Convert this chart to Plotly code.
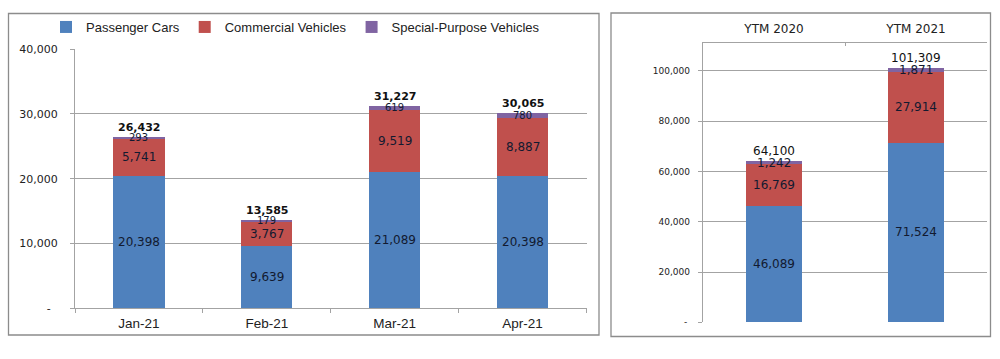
import plotly.graph_objects as go

# ---- data ----
months = ["Jan-21", "Feb-21", "Mar-21", "Apr-21"]
passenger_m = [20398, 9639, 21089, 20398]
commercial_m = [5741, 3767, 9519, 8887]
special_m = [293, 179, 619, 780]

periods = ["YTM 2020", "YTM 2021"]
passenger_y = [46089, 71524]
commercial_y = [16769, 27914]
special_y = [1242, 1871]

series_names = ["Passenger Cars", "Commercial Vehicles", "Special-Purpose Vehicles"]
colors = ["#4F81BD", "#C0504D", "#8064A2"]

left_ticks = [0, 10000, 20000, 30000, 40000]
left_ticktext = ["-\u00a0\u00a0", "10,000", "20,000", "30,000", "40,000"]
right_ticks = [0, 20000, 40000, 60000, 80000, 100000]
right_ticktext = ["-\u00a0", "20,000", "40,000", "60,000", "80,000", "100,000"]

W, H = 1000, 359
GRID = "#A3A3A3"
LABEL_FONT = "DejaVu Sans"
AXIS_FONT = "Liberation Sans"
TXT = "#121a30"

fig = go.Figure()

left_series = [passenger_m, commercial_m, special_m]
right_series = [passenger_y, commercial_y, special_y]

for name, col, vals in zip(series_names, colors, left_series):
    fig.add_trace(go.Bar(x=months, y=vals, name=name, marker=dict(color=col, line=dict(width=0)),
                         width=0.4, xaxis="x", yaxis="y", legendgroup=name, hoverinfo="skip"))
for name, col, vals in zip(series_names, colors, right_series):
    fig.add_trace(go.Bar(x=periods, y=vals, name=name, marker=dict(color=col, line=dict(width=0)),
                         width=0.39, xaxis="x2", yaxis="y2", legendgroup=name, showlegend=False,
                         hoverinfo="skip"))

annotations = []

def add_labels(cats, series, xref, yref, seg_sizes, total_font):
    for i, c in enumerate(cats):
        base = 0
        for s_idx, vals in enumerate(series):
            v = vals[i]
            annotations.append(dict(x=c, y=base + v / 2, xref=xref, yref=yref, text=f"{v:,}",
                                    showarrow=False, font=dict(family=LABEL_FONT, size=seg_sizes[s_idx], color=TXT)))
            base += v
        annotations.append(dict(x=c, y=base, xref=xref, yref=yref, text=f"{base:,}", showarrow=False,
                                yanchor="bottom", yshift=1, font=total_font))

add_labels(months, left_series, "x", "y", [12, 12, 10],
           dict(family=LABEL_FONT, size=11, color="#111111", weight="bold"))
add_labels(periods, right_series, "x2", "y2", [12, 12, 12],
           dict(family=LABEL_FONT, size=12, color="#111111"))

def px_x(p):
    return p / W

def px_y(p):
    return 1 - p / H

shapes = [
    dict(type="rect", xref="paper", yref="paper", x0=px_x(8.5), x1=px_x(599), y0=px_y(335), y1=px_y(13.5),
         line=dict(color="#8C8C8C", width=1.3), fillcolor="rgba(0,0,0,0)", layer="below"),
    dict(type="rect", xref="paper", yref="paper", x0=px_x(611), x1=px_x(990.5), y0=px_y(336.5), y1=px_y(13),
         line=dict(color="#8C8C8C", width=1.3), fillcolor="rgba(0,0,0,0)", layer="below"),
]

fig.update_layout(
    width=W, height=H,
    margin=dict(l=0, r=0, t=0, b=0, autoexpand=False),
    paper_bgcolor="white", plot_bgcolor="white",
    barmode="stack",
    showlegend=True,
    legend=dict(orientation="h", x=px_x(46), y=px_y(27), xanchor="left", yanchor="middle",
                font=dict(family=AXIS_FONT, size=13, color="#222222"), bgcolor="rgba(0,0,0,0)",
                traceorder="normal"),
    xaxis=dict(domain=[px_x(75), px_x(586.5)], anchor="y", type="category", automargin=False,
               showline=True, linecolor=GRID, linewidth=1.3, ticks="outside", ticklen=4, tickcolor=GRID,
               tickson="boundaries", showgrid=False, ticklabelstandoff=2,
               tickfont=dict(family=AXIS_FONT, size=13.5, color="#222222")),
    yaxis=dict(domain=[px_y(308.3), px_y(49)], anchor="x", range=[0, 40000], automargin=False,
               tickvals=left_ticks, ticktext=left_ticktext, showline=True, linecolor=GRID, linewidth=1.3,
               ticks="outside", ticklen=4, tickcolor=GRID, showgrid=True, gridcolor=GRID, gridwidth=1.3,
               zeroline=False, ticklabelstandoff=10,
               tickfont=dict(family=LABEL_FONT, size=11, color="#222222")),
    xaxis2=dict(domain=[px_x(703), px_x(987)], anchor="y2", type="category", side="top", automargin=False,
                showline=True, linecolor=GRID, linewidth=1.3, ticks="inside", ticklen=3, tickcolor=GRID,
                tickson="boundaries", showgrid=False, ticklabelstandoff=4,
                tickfont=dict(family=LABEL_FONT, size=12, color="#222222")),
    yaxis2=dict(domain=[px_y(322.3), px_y(43.3)], anchor="x2", range=[0, 111000], automargin=False,
                tickvals=right_ticks, ticktext=right_ticktext, showline=True, linecolor=GRID, linewidth=1.3,
                ticks="outside", ticklen=4, tickcolor=GRID, showgrid=True, gridcolor=GRID, gridwidth=1.3,
                zeroline=False, ticklabelstandoff=6,
                tickfont=dict(family=LABEL_FONT, size=9, color="#222222")),
    annotations=annotations,
    shapes=shapes,
)

fig.write_html("out.html", config={"displayModeBar": False},
               post_script="document.body.style.margin='0px';document.body.style.overflow='hidden';")
